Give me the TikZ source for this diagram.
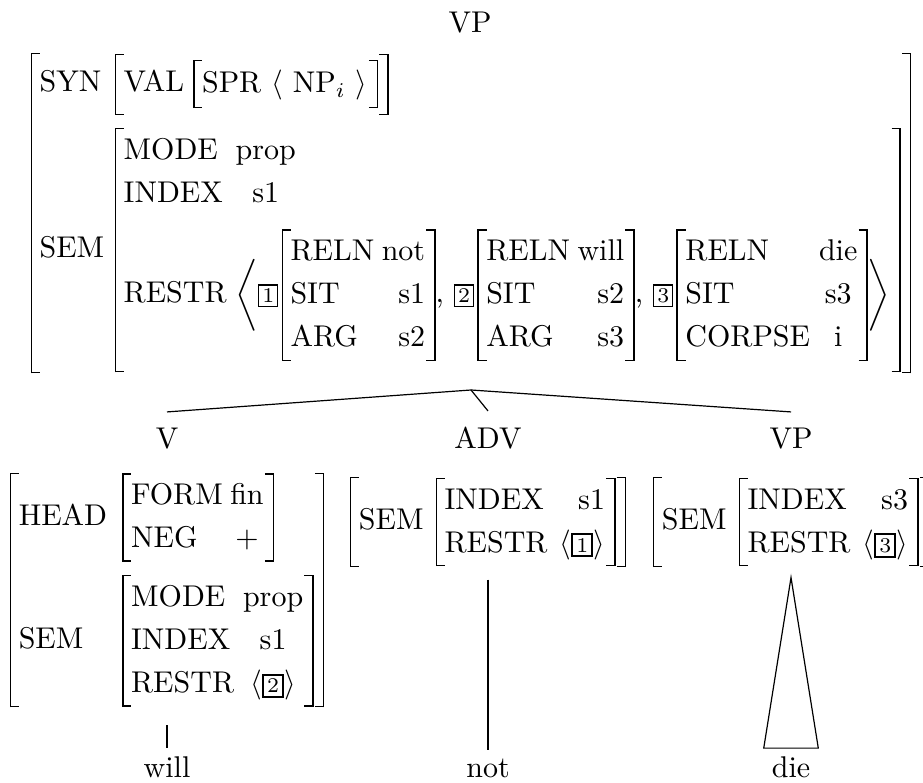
\documentclass[tikz,border=0pt]{standalone}
\usepackage{amsmath}
\usepackage{tikz}
\usetikzlibrary{positioning,calc}
\newsavebox{\avmsave}
\newlength{\avmht}
\newlength{\avmdp}
% attribute-value matrix with bracket drawn from rules
\newcommand{\avm}[3][0.3pt]{{%
  \sbox{\avmsave}{$\vcenter{\hbox{\begin{tabular}{@{\hspace{2.5pt}}#2@{\hspace{3pt}}}#3\end{tabular}}}$}%
  \setlength{\avmht}{\dimexpr\ht\avmsave+#1\relax}%
  \setlength{\avmdp}{\dimexpr\dp\avmsave+#1\relax}%
  \vrule width 0.5pt height\avmht depth\avmdp
  \rlap{\vrule width 2.6pt height\avmht depth -\dimexpr\avmht-0.4pt\relax}%
  \rlap{\vrule width 2.6pt height -\dimexpr\avmdp-0.4pt\relax depth\avmdp}%
  \usebox{\avmsave}%
  \llap{\vrule width 2.6pt height\avmht depth -\dimexpr\avmht-0.4pt\relax}%
  \llap{\vrule width 2.6pt height -\dimexpr\avmdp-0.4pt\relax depth\avmdp}%
  \vrule width 0.5pt height\avmht depth\avmdp}}
\newcommand{\tagbox}[2][0.4pt]{{\setlength{\fboxrule}{#1}\setlength{\fboxsep}{1pt}\fbox{\scriptsize #2}}}
\renewcommand{\arraystretch}{1.2}

\begin{document}
\begin{tikzpicture}[
  x=0.3333pt, y=-0.3333pt,
  avmbox/.style={inner sep=0pt},
  cat/.style={anchor=base, inner sep=5pt},
  leaf/.style={anchor=base, inner sep=2.5pt}
]
\useasboundingbox (0,0) rectangle (923,782);
% mother node
\node[cat] (vptop) at (470,32) {VP};
\node[avmbox] (vpavm) at (471,213) {\avm{l@{\hspace{3.5pt}}l}{%
  SYN & \avm[2.2pt]{l@{\hspace{3pt}}l}{VAL & \avm[0.8pt]{l}{SPR $\langle$ NP$_i$ $\rangle$}}\\ \noalign{\vskip4.5pt}
  SEM & \avm{l@{\hspace{3pt}}c@{}l}{%
    MODE & prop &\\
    INDEX & s1 &\\
    RESTR & \multicolumn{2}{@{}l@{\hspace{3pt}}}{$\bigg\langle\mbox{%
      \rule[-23pt]{0pt}{52pt}%
      \tagbox{1}\kern1pt\avm{l@{\hspace{2.5pt}}r}{RELN & not\\SIT & s1\\ARG & s2},
      \tagbox{2}\kern1pt\avm{l@{\hspace{2.5pt}}r}{RELN & will\\SIT & s2\\ARG & s3},
      \tagbox{3}\kern1pt\avm{l@{\hspace{3pt}}c}{RELN & die\\SIT & s3\\CORPSE & i}}\bigg\rangle$}
  }\hspace{1.5pt}}};
\coordinate (apex) at ($(vpavm.south)+(0,16)$);
% daughters
\node[cat] (v) at (167,448) {V};
\node[cat] (adv) at (488,448) {ADV};
\node[cat] (vpb) at (791,448) {VP};
\draw (apex) -- (v.north);
\draw (apex) -- (adv.north);
\draw (apex) -- (vpb.north);
\node[avmbox] (vavm) at (167,590) {\avm{l@{\hspace{5pt}}l}{%
  HEAD & \avm{l@{\hspace{2.5pt}}c}{FORM & fin\\NEG & +}\\ \noalign{\vskip4.5pt}
  SEM & \avm{l@{\hspace{3pt}}c}{MODE & prop\\INDEX & s1\\RESTR & $\langle$\tagbox[0.7pt]{2}$\rangle$}\hspace{1.5pt}}};
\node[avmbox] (advavm) at (488,522) {\avm{l@{\hspace{4pt}}l}{%
  SEM & \avm{l@{\hspace{4pt}}r}{INDEX & s1\\RESTR & $\langle$\tagbox[0.7pt]{1}$\rangle$}\hspace{1.5pt}}};
\node[avmbox] (vpbavm) at (791,522) {\avm{l@{\hspace{4pt}}l}{%
  SEM & \avm{l@{\hspace{4pt}}r}{INDEX & s3\\RESTR & $\langle$\tagbox[0.7pt]{3}$\rangle$}\hspace{1.5pt}}};
% leaves
\node[leaf] (will) at (167,777) {will};
\node[leaf] (not) at (488,777) {not};
\node[leaf] (die) at (791,777) {die};
\draw[shorten <=5.7pt] (vavm.south) -- (will.north);
\draw[shorten <=4pt] (advavm.south) -- (not.north);
\draw ([yshift=-3.3pt]vpbavm.south) -- (die.north west) -- (die.north east) -- cycle;
\end{tikzpicture}
\end{document}
